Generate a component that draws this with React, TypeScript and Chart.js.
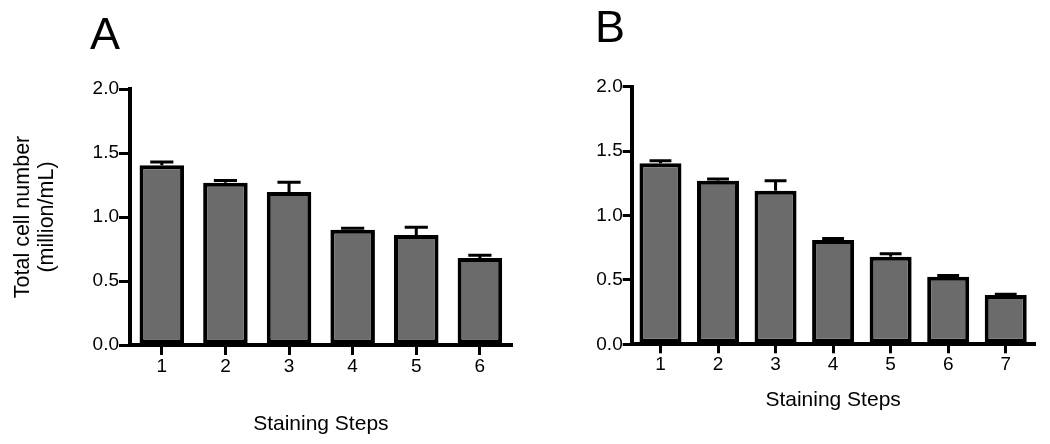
import React, { useEffect, useRef } from "react";
import { Chart, registerables } from "chart.js";

Chart.register(...registerables);

// ---------- data ----------
const stepsA = ["1", "2", "3", "4", "5", "6"];
const meansA = [1.405, 1.268, 1.196, 0.9, 0.86, 0.68];
const errA = [0.024, 0.018, 0.076, 0.013, 0.06, 0.022];

const stepsB = ["1", "2", "3", "4", "5", "6", "7"];
const meansB = [1.405, 1.27, 1.192, 0.81, 0.68, 0.525, 0.383];
const errB = [0.02, 0.013, 0.078, 0.012, 0.023, 0.01, 0.006];

const yTickValues = [0, 0.5, 1.0, 1.5, 2.0];
const xTitle = "Staining Steps";
const yTitle = ["Total cell number", "(million/mL)"];

const FONT = '"Liberation Sans", Arial, Helvetica, sans-serif';
const BAR_FILL = "#6b6b6b";

const errorBarPlugin = {
  id: "errorBars",
  afterDatasetsDraw(chart: any, _args: any, opts: any) {
    const { ctx } = chart;
    const yScale = chart.scales.y;
    const errs: number[] = opts.errors || [];
    chart.data.datasets.forEach((ds: any, di: number) => {
      const meta = chart.getDatasetMeta(di);
      meta.data.forEach((bar: any, i: number) => {
        const v = ds.data[i] as number;
        const e = errs[i] || 0;
        const top = yScale.getPixelForValue(v + e);
        const { x, y, width } = bar.getProps(["x", "y", "width"], true);
        const capW = width * opts.capRatio;
        ctx.save();
        ctx.strokeStyle = "#000";
        ctx.lineWidth = 3;
        ctx.lineCap = "butt";
        ctx.beginPath();
        ctx.moveTo(x, y);
        ctx.lineTo(x, top);
        ctx.moveTo(x - capW / 2, top);
        ctx.lineTo(x + capW / 2, top);
        ctx.stroke();
        ctx.restore();
      });
    });
  },
};

const panelLabelPlugin = {
  id: "panelLabel",
  afterDraw(chart: any, _args: any, opts: any) {
    const { ctx, chartArea } = chart;
    ctx.save();
    ctx.fillStyle = "#000";
    ctx.font = `45px ${FONT}`;
    ctx.textAlign = "left";
    ctx.textBaseline = "alphabetic";
    ctx.fillText(opts.text, chartArea.left + opts.dx, opts.baseline);
    ctx.restore();
  },
};

type PanelProps = {
  labels: string[];
  means: number[];
  errs: number[];
  letter: string;
  letterDx: number;
  letterBaseline: number;
  yWidth: number;
  xHeight: number;
  padTop: number;
  padRight: number;
  barPct: number;
  showYTitle: boolean;
  yTickLen: number;
  xTickLen: number;
  xTitlePadBottom: number;
};

function Panel(p: PanelProps) {
  const ref = useRef<HTMLCanvasElement | null>(null);
  useEffect(() => {
    if (!ref.current) return;
    const chart = new Chart(ref.current, {
      type: "bar",
      data: {
        labels: p.labels,
        datasets: [
          {
            data: p.means,
            backgroundColor: BAR_FILL,
            borderColor: "#000",
            borderWidth: 4,
            borderSkipped: false,
            categoryPercentage: 1,
            barPercentage: p.barPct,
          },
        ],
      },
      options: {
        responsive: false,
        animation: false,
        events: [],
        devicePixelRatio: 1,
        layout: {
          padding: { top: p.padTop, right: p.padRight, left: 0, bottom: 0 },
        },
        plugins: {
          legend: { display: false },
          tooltip: { enabled: false },
          errorBars: { errors: p.errs, capRatio: 0.52 },
          panelLabel: { text: p.letter, dx: p.letterDx, baseline: p.letterBaseline },
        } as any,
        scales: {
          x: {
            type: "category",
            offset: true,
            afterFit: (s: any) => {
              s.height = p.xHeight;
            },
            border: { display: true, color: "#000", width: 4 },
            grid: {
              offset: false,
              drawOnChartArea: false,
              drawTicks: true,
              tickLength: p.xTickLen,
              tickWidth: 3,
              tickColor: "#000",
              lineWidth: 3,
              color: "#000",
            },
            ticks: {
              color: "#000",
              padding: 0,
              font: { family: FONT, size: 19, lineHeight: 1.2 },
              maxRotation: 0,
            },
            title: {
              display: true,
              text: xTitle,
              color: "#000",
              font: { family: FONT, size: 21, lineHeight: 1.2 },
              padding: { top: 0, bottom: p.xTitlePadBottom },
            },
          },
          y: {
            type: "linear",
            min: 0,
            max: 2,
            afterFit: (s: any) => {
              s.width = p.yWidth;
            },
            afterBuildTicks: (s: any) => {
              s.ticks = yTickValues.map((v) => ({ value: v }));
            },
            border: { display: true, color: "#000", width: 4 },
            grid: {
              drawOnChartArea: false,
              drawTicks: true,
              tickLength: p.yTickLen,
              tickWidth: 3,
              tickColor: "#000",
              lineWidth: 3,
              color: "#000",
            },
            ticks: {
              color: "#000",
              padding: 0,
              font: { family: FONT, size: 19 },
              callback: (v: any) => Number(v).toFixed(1),
            },
            title: {
              display: p.showYTitle,
              text: yTitle,
              color: "#000",
              font: { family: FONT, size: 21.5, lineHeight: 1.12 },
              padding: { top: 11, bottom: 0 },
            },
          },
        },
      } as any,
      plugins: [errorBarPlugin, panelLabelPlugin],
    });
    return () => chart.destroy();
  }, []);
  return <canvas ref={ref} width={525} height={444} style={{ display: "block" }} />;
}

export default function App() {
  return (
    <div
      style={{
        position: "absolute",
        left: 0,
        top: 0,
        width: 1050,
        height: 444,
        background: "#fff",
        display: "flex",
      }}
    >
      <Panel
        labels={stepsA}
        means={meansA}
        errs={errA}
        letter="A"
        letterDx={-40}
        letterBaseline={49}
        yWidth={130}
        xHeight={99}
        padTop={89}
        padRight={13.3}
        barPct={0.7}
        showYTitle={true}
        yTickLen={11}
        xTickLen={10}
        xTitlePadBottom={7}
      />
      <Panel
        labels={stepsB}
        means={meansB}
        errs={errB}
        letter="B"
        letterDx={-36.7}
        letterBaseline={42}
        yWidth={106.7}
        xHeight={99.7}
        padTop={86.7}
        padRight={15.5}
        barPct={0.73}
        showYTitle={false}
        yTickLen={9}
        xTickLen={9}
        xTitlePadBottom={30.7}
      />
    </div>
  );
}
